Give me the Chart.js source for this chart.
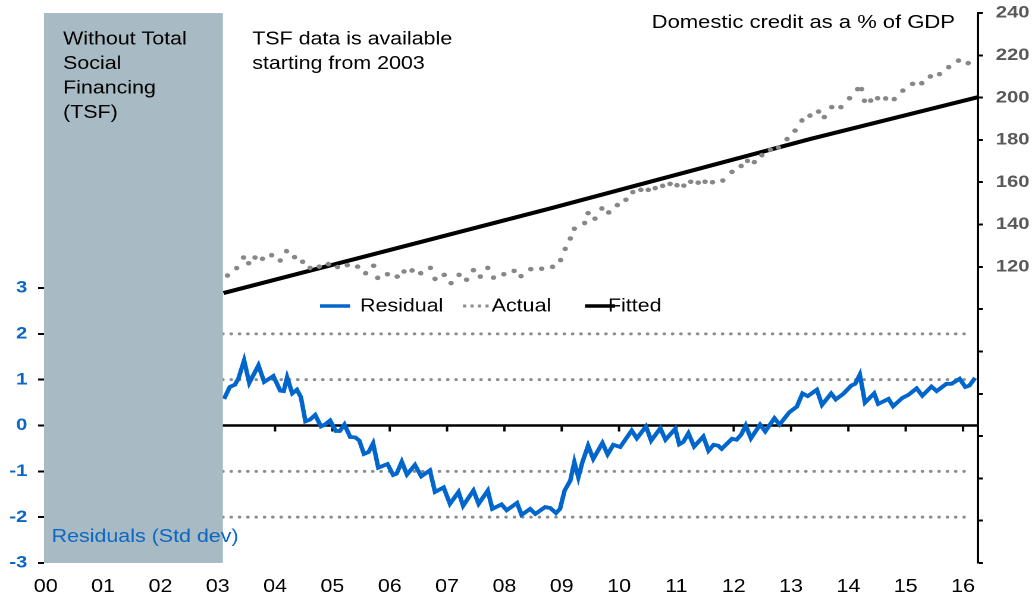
<!DOCTYPE html>
<html>
<head>
<meta charset="utf-8">
<script src="https://cdn.jsdelivr.net/npm/chart.js@4.4.1/dist/chart.umd.min.js"></script>
<style>
    html, body { margin: 0; padding: 0; background: #fff; overflow: hidden; }
    /* the source picture is stretched sideways, so the chart is too */
    #wrap { width: 870px; height: 600px; transform: scaleX(1.1897); transform-origin: 0 0; }
</style>
</head>
<body>
<div id="wrap"><canvas id="chart"></canvas></div>

<script>
    // years since 2000
    const xTickYears = [0, 1, 2, 3, 4, 5, 6, 7, 8, 9, 10, 11, 12, 13, 14, 15, 16]
    const xTickLabels = ['00', '01', '02', '03', '04', '05', '06', '07', '08', '09', '10', '11', '12', '13', '14', '15', '16']
    const resTicks = [-3, -2, -1, 0, 1, 2, 3]
    const guideLevels = [-2, -1, 1, 2]
    const shadeEnd = 3.09
    const guideEnd = 16.09

    const resYears = [3.11, 3.21, 3.30, 3.36, 3.46, 3.55, 3.71, 3.81, 3.97, 4.09, 4.15, 4.21, 4.30, 4.38, 4.45, 4.53, 4.61, 4.70, 4.80, 4.87,
        4.96, 5.06, 5.13, 5.21, 5.31, 5.40, 5.47, 5.55, 5.63, 5.71, 5.80, 5.96, 6.06, 6.12, 6.21, 6.30, 6.44, 6.55, 6.70, 6.79,
        6.94, 7.05, 7.20, 7.28, 7.46, 7.55, 7.71, 7.79, 7.95, 8.04, 8.22, 8.30, 8.45, 8.54, 8.71, 8.80, 8.90, 8.97, 9.05, 9.15,
        9.22, 9.29, 9.36, 9.46, 9.55, 9.71, 9.80, 9.90, 10.02, 10.22, 10.31, 10.47, 10.56, 10.72, 10.81, 10.98, 11.05, 11.12, 11.21, 11.31,
        11.47, 11.56, 11.65, 11.73, 11.79, 11.97, 12.05, 12.13, 12.21, 12.30, 12.46, 12.55, 12.71, 12.80, 12.97, 13.10, 13.20, 13.29, 13.45, 13.54,
        13.70, 13.78, 13.91, 14.05, 14.12, 14.20, 14.29, 14.45, 14.52, 14.70, 14.78, 14.94, 15.05, 15.19, 15.29, 15.45, 15.54, 15.71, 15.80, 15.94,
        16.04, 16.11, 16.21]
    const resValues = [0.58, 0.84, 0.89, 1.02, 1.42, 0.93, 1.31, 0.95, 1.08, 0.76, 0.75, 1.05, 0.70, 0.78, 0.62, 0.09, 0.13, 0.23, -0.02, 0.02,
        0.11, -0.12, -0.12, 0.02, -0.25, -0.26, -0.33, -0.62, -0.58, -0.39, -0.92, -0.84, -1.08, -1.05, -0.79, -1.07, -0.86, -1.11, -0.98, -1.45,
        -1.35, -1.71, -1.45, -1.75, -1.42, -1.71, -1.42, -1.82, -1.72, -1.85, -1.69, -1.95, -1.82, -1.93, -1.78, -1.80, -1.91, -1.82, -1.42, -1.20,
        -0.80, -1.13, -0.80, -0.44, -0.73, -0.38, -0.63, -0.42, -0.47, -0.11, -0.28, -0.02, -0.33, -0.06, -0.31, -0.07, -0.41, -0.36, -0.17, -0.46,
        -0.24, -0.55, -0.42, -0.44, -0.51, -0.29, -0.31, -0.20, 0.00, -0.28, 0.02, -0.13, 0.16, 0.02, 0.29, 0.41, 0.70, 0.64, 0.78, 0.45,
        0.70, 0.57, 0.69, 0.87, 0.91, 1.11, 0.50, 0.70, 0.47, 0.58, 0.42, 0.60, 0.67, 0.81, 0.65, 0.85, 0.75, 0.91, 0.91, 1.02,
        0.84, 0.87, 1.04]

    const actualYears = [3.17, 3.33, 3.45, 3.54, 3.65, 3.78, 3.94, 4.09, 4.20, 4.34, 4.48, 4.61, 4.77, 4.93, 5.09, 5.26, 5.44, 5.58, 5.72, 5.79,
        5.96, 6.13, 6.25, 6.39, 6.54, 6.71, 6.79, 6.95, 7.07, 7.21, 7.34, 7.46, 7.58, 7.71, 7.81, 7.99, 8.17, 8.29, 8.46, 8.65,
        8.84, 8.98, 9.06, 9.15, 9.22, 9.40, 9.46, 9.58, 9.70, 9.82, 9.97, 10.12, 10.24, 10.38, 10.51, 10.63, 10.76, 10.89, 11.01, 11.13,
        11.25, 11.38, 11.50, 11.63, 11.81, 11.97, 12.13, 12.24, 12.36, 12.49, 12.64, 12.78, 12.93, 13.07, 13.19, 13.33, 13.48, 13.58, 13.71, 13.87,
        14.02, 14.16, 14.23, 14.28, 14.39, 14.51, 14.65, 14.80, 14.95, 15.12, 15.28, 15.43, 15.59, 15.75, 15.92, 16.09]
    const actualValues = [115.9, 119.4, 124.4, 121.7, 124.4, 123.8, 125.5, 123.0, 127.4, 124.6, 122.4, 119.5, 120.1, 121.3, 119.9, 120.8, 120.1, 117.0, 120.5, 114.8,
        116.5, 115.4, 117.8, 118.3, 117.0, 119.5, 114.3, 116.2, 112.3, 116.2, 113.9, 118.4, 115.4, 119.5, 114.9, 116.5, 118.1, 115.6, 118.9, 119.1,
        120.0, 123.2, 128.5, 133.4, 138.0, 140.7, 145.4, 142.8, 147.6, 145.7, 149.2, 151.7, 155.3, 156.4, 156.4, 157.2, 158.3, 159.2, 158.6, 158.4,
        160.2, 159.8, 160.2, 160.0, 160.8, 164.9, 167.7, 170.1, 169.5, 172.8, 175.3, 176.4, 180.4, 184.4, 189.2, 191.5, 193.4, 190.8, 195.5, 195.5,
        199.7, 204.0, 204.0, 198.5, 198.6, 199.7, 199.6, 199.3, 203.3, 206.5, 206.8, 210.0, 211.1, 214.4, 217.5, 216.3]

    const fittedYears = [3.10, 8.80, 13.33, 16.26]
    const fittedValues = [107.6, 147.6, 180.4, 200.2]

    const blue = '#0066cc'
    const blueText = '#0b67c4'
    const font = "'Liberation Sans', Arial, sans-serif"
    Chart.defaults.font.family = font

    const pts = (xs, ys) => xs.map((x, i) => ({ x: x, y: ys[i] }))

    // keep the plot box where the picture has it: no extra room for edge labels
    const noPad = s => { s.paddingTop = 0; s.paddingBottom = 0; s.paddingLeft = 0; s.paddingRight = 0 }

    const decor = {
        id: 'decor',
        beforeDatasetsDraw(chart) {
            const { ctx, chartArea: a, scales: { x, yRes } } = chart
            ctx.save()
            // dotted guides at +-1 and +-2
            ctx.strokeStyle = '#8c8c8c'
            ctx.lineWidth = 3
            ctx.lineCap = 'round'
            ctx.setLineDash([0, 7])
            const gx0 = x.getPixelForValue(shadeEnd)
            const gx1 = x.getPixelForValue(guideEnd)
            guideLevels.forEach(v => {
                const y = yRes.getPixelForValue(v)
                ctx.beginPath()
                ctx.moveTo(gx0, y)
                ctx.lineTo(gx1, y)
                ctx.stroke()
            })
            // zero line with year ticks
            ctx.setLineDash([])
            ctx.lineCap = 'butt'
            ctx.strokeStyle = '#000'
            ctx.lineWidth = 2.5
            const y0 = yRes.getPixelForValue(0)
            ctx.beginPath()
            ctx.moveTo(a.left, y0)
            ctx.lineTo(a.right, y0)
            ctx.stroke()
            ctx.lineWidth = 2
            xTickYears.forEach(v => {
                const px = x.getPixelForValue(v)
                ctx.beginPath()
                ctx.moveTo(px, y0)
                ctx.lineTo(px, y0 + 6)
                ctx.stroke()
            })
            ctx.restore()
        },
        afterDatasetsDraw(chart) {
            const { ctx, chartArea: a, scales: { x } } = chart
            ctx.save()
            ctx.fillStyle = '#a8bac3'
            ctx.fillRect(a.left, a.top, x.getPixelForValue(shadeEnd) - a.left, a.bottom - a.top)

            ctx.fillStyle = '#000'
            ctx.textBaseline = 'alphabetic'
            ctx.font = '18px ' + font
            ctx.textAlign = 'left'
            ;['Without Total', 'Social', 'Financing', '(TSF)'].forEach((t, i) => ctx.fillText(t, 53, 44.3 + i * 24.5))
            ctx.fillText('TSF data is available', 212, 44.3)
            ctx.fillText('starting from 2003', 212, 68.8)
            ctx.font = '18.5px ' + font
            ctx.textAlign = 'right'
            ctx.fillText('Domestic credit as a % of GDP', 802.7, 28)
            ctx.textAlign = 'left'
            ctx.font = '18px ' + font
            ctx.fillStyle = blueText
            ctx.fillText('Residuals (Std dev)', 43.4, 542)

            // legend
            const ly = 306
            ctx.lineWidth = 3.5
            ctx.strokeStyle = blue
            ctx.beginPath(); ctx.moveTo(269, ly); ctx.lineTo(294.2, ly); ctx.stroke()
            ctx.strokeStyle = '#8c8c8c'
            ctx.lineWidth = 3
            ctx.setLineDash([2.6, 3.7])
            ctx.beginPath(); ctx.moveTo(389.2, ly); ctx.lineTo(411.9, ly); ctx.stroke()
            ctx.setLineDash([])
            ctx.strokeStyle = '#000'
            ctx.lineWidth = 3.5
            ctx.beginPath(); ctx.moveTo(491.7, ly); ctx.lineTo(517, ly); ctx.stroke()
            ctx.fillStyle = '#000'
            ctx.fillText('Residual', 302.6, 311.7)
            ctx.fillText('Actual', 413.3, 311.7)
            ctx.fillText('Fitted', 511, 311.7)
            ctx.restore()
        }
    }

    new Chart(document.getElementById('chart'), {
        type: 'line',
        data: {
            datasets: [{
                label: 'Residual',
                data: pts(resYears, resValues),
                yAxisID: 'yRes',
                borderColor: blue,
                borderWidth: 3.8,
                pointRadius: 0,
                tension: 0
            }, {
                label: 'Actual',
                data: pts(actualYears, actualValues),
                yAxisID: 'yCredit',
                showLine: false,
                pointRadius: 2.3,
                pointBorderWidth: 0,
                pointBackgroundColor: '#878787',
                borderColor: '#878787'
            }, {
                label: 'Fitted',
                data: pts(fittedYears, fittedValues),
                yAxisID: 'yCredit',
                borderColor: '#000',
                borderWidth: 4,
                pointRadius: 0
            }]
        },
        options: {
            responsive: true,
            maintainAspectRatio: false,
            animation: false,
            devicePixelRatio: 2,
            layout: { padding: { top: 13, left: 0, right: 0, bottom: 0 } },
            plugins: { legend: { display: false }, tooltip: { enabled: false } },
            scales: {
                x: {
                    type: 'linear',
                    min: -0.03,
                    max: 16.26,
                    afterBuildTicks: s => { s.ticks = xTickYears.map(v => ({ value: v })) },
                    afterFit: s => { s.height = 37; noPad(s) },
                    ticks: {
                        callback: (v, i) => xTickLabels[i],
                        color: '#000',
                        font: { size: 18 },
                        padding: 13,
                        maxRotation: 0,
                        autoSkip: false
                    },
                    grid: { display: false, drawTicks: false },
                    border: { display: false }
                },
                yRes: {
                    position: 'left',
                    min: -3,
                    max: 9,
                    afterBuildTicks: s => { s.ticks = resTicks.map(v => ({ value: v })) },
                    afterFit: s => { s.width = 37; noPad(s) },
                    ticks: { color: blueText, font: { size: 17, weight: 'bold' }, padding: 9 },
                    grid: { drawOnChartArea: false, tickLength: 5, tickColor: '#000', tickWidth: 2 },
                    border: { display: false }
                },
                yCredit: {
                    position: 'right',
                    min: -20,
                    max: 240,
                    afterFit: s => { s.width = 48; noPad(s) },
                    ticks: {
                        stepSize: 20,
                        callback: v => v >= 120 ? v : '',
                        color: '#595959',
                        font: { size: 17, weight: 'bold' },
                        padding: 11
                    },
                    grid: { drawOnChartArea: false, tickLength: 4, tickColor: '#000', tickWidth: 2 },
                    border: { display: true, color: '#000', width: 2 }
                }
            }
        },
        plugins: [decor]
    })
</script>
</body>
</html>
